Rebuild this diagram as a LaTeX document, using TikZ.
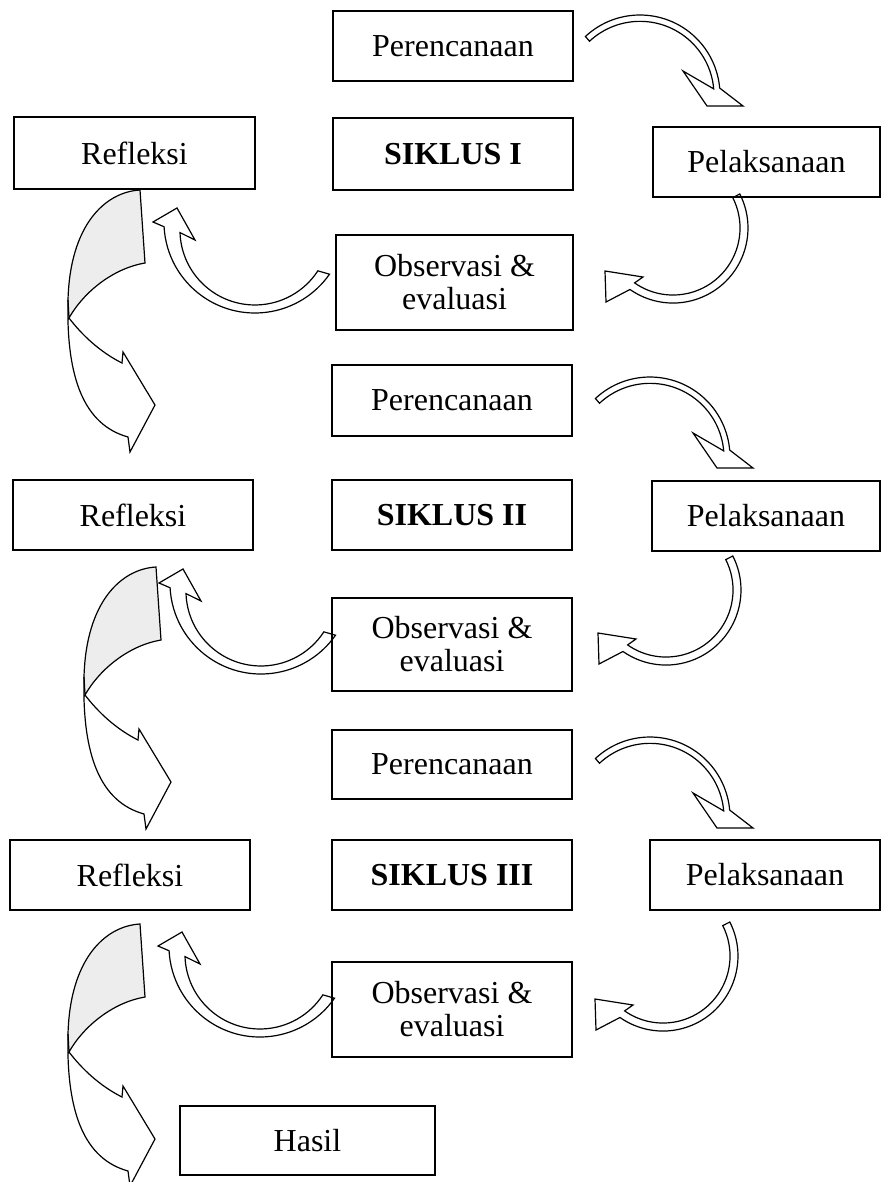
\documentclass[tikz,border=0pt]{standalone}
\usepackage{fontspec}
\setmainfont{Liberation Serif}
\newcommand\arrTR[1]{%
  \begin{scope}[shift={#1}]
    \draw[arr] (585.4,36.5) arc[start angle=-133, end angle=-5, radius=80]
      -- (743,106) -- (707,106) -- (683,71) -- (713.7,88.9)
      arc[start angle=-5, end angle=-133, radius=74] -- cycle;
  \end{scope}}
\newcommand\arrBR[1]{%
  \begin{scope}[shift={#1}]
    \draw[arr] (739.8,194.0) arc[start angle=-27, end angle=125, radius=75]
      -- (606,302) -- (605,271) -- (643,277) -- (634.6,282.9)
      arc[start angle=125, end angle=-27, radius=67] -- cycle;
  \end{scope}}
\newcommand\arrML[1]{%
  \begin{scope}[shift={#1}]
    \draw[arr] (329.5,274.2) arc[start angle=35, end angle=177, radius=91]
      -- (153,222) -- (177,208) -- (195,240) -- (180.0,232.6)
      arc[start angle=178, end angle=33, radius=75] -- cycle;
  \end{scope}}
\newcommand\arrBL[1]{%
  \begin{scope}[shift={#1}]
    \draw[arr, fill=gray!14] (140,190) -- (145,263)
      .. controls (115,268) and (85,290) .. (69,318)
      -- (68,300) .. controls (70,225) and (105,192) .. (140,190) -- cycle;
    \draw[arr, fill=none] (68,300) .. controls (66,380) and (85,425) .. (128,437)
      -- (130,452) -- (155,405) -- (123,352) -- (122,363)
      .. controls (100,352) and (82,335) .. (69,318);
  \end{scope}}
\begin{document}
\begin{tikzpicture}[x=1pt,y=-1pt,
  box/.style={draw, line width=1.4pt, inner sep=0pt, align=center,
    font=\fontsize{32}{33}\selectfont},
  arr/.style={draw, line width=1.2pt, line join=miter, fill=white}]
\useasboundingbox[fill=white] (0,0) rectangle (882,1182);

% arrows
\arrTR{(0,0)}
\arrBR{(0,0)}
\arrML{(0,0)}
\arrBL{(0,0)}
\arrTR{(10,362)}
\arrBR{(-7,362)}
\arrML{(6,361)}
\arrBL{(16,377)}
\arrTR{(10,722)}
\arrBR{(-10,728)}
\arrML{(5,724)}
\arrBL{(0,734)}

% cycle 1
\node[box, minimum width=240pt, minimum height=70pt] (per1) at (453,46) {Perencanaan};
\node[box, minimum width=240pt, minimum height=72pt] (sik1) at (453,154) {\bfseries SIKLUS I};
\node[box, minimum width=237pt, minimum height=95pt] (obs1) at (454.5,282.5) {Observasi \&\\evaluasi};
\node[box, minimum width=241pt, minimum height=72pt] (ref1) at (134.5,153) {Refleksi};
\node[box, minimum width=227pt, minimum height=70pt] (pel1) at (766.5,162) {Pelaksanaan};
% cycle 2
\node[box, minimum width=240pt, minimum height=71pt] (per2) at (452,400.5) {Perencanaan};
\node[box, minimum width=240pt, minimum height=70pt] (sik2) at (452,515) {\bfseries SIKLUS II};
\node[box, minimum width=240pt, minimum height=93pt] (obs2) at (452,644.5) {Observasi \&\\evaluasi};
\node[box, minimum width=240pt, minimum height=70pt] (ref2) at (133,515) {Refleksi};
\node[box, minimum width=228pt, minimum height=70pt] (pel2) at (766,516) {Pelaksanaan};
% cycle 3
\node[box, minimum width=240pt, minimum height=69pt] (per3) at (452,764.5) {Perencanaan};
\node[box, minimum width=240pt, minimum height=70pt] (sik3) at (452,875) {\bfseries SIKLUS III};
\node[box, minimum width=240pt, minimum height=95pt] (obs3) at (452,1009.5) {Observasi \&\\evaluasi};
\node[box, minimum width=240pt, minimum height=70pt] (ref3) at (130,875) {Refleksi};
\node[box, minimum width=230pt, minimum height=70pt] (pel3) at (765,875) {Pelaksanaan};
\node[box, minimum width=255pt, minimum height=69pt] (hasil) at (307.5,1140.5) {Hasil};
\end{tikzpicture}
\end{document}
